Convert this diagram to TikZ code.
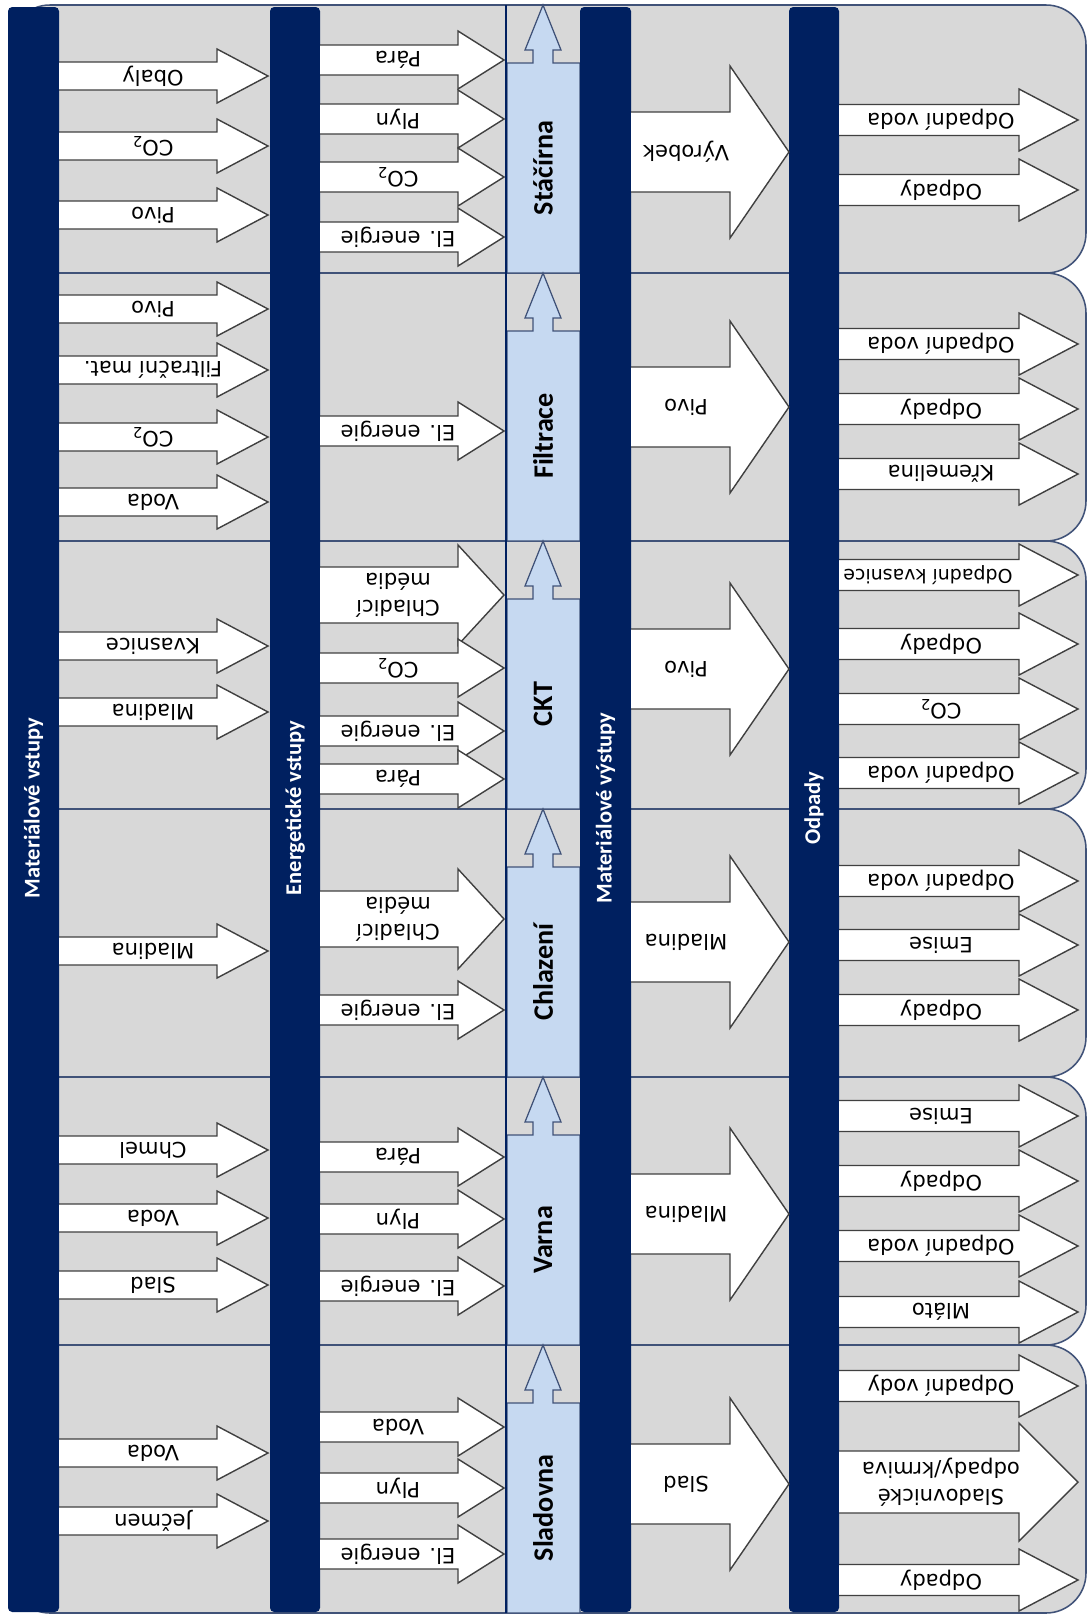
\documentclass[tikz,border=0pt]{standalone}
\usepackage{fontspec}
\setmainfont{DejaVu Sans}
\newfontfamily\calfont{Carlito}
\usepackage{tikz}
\usetikzlibrary{calc}

\definecolor{navybar}{RGB}{0,32,96}
\definecolor{panelgray}{RGB}{216,216,216}
\definecolor{panelline}{RGB}{64,82,120}
\definecolor{procblue}{RGB}{198,217,241}
\definecolor{arrowgray}{RGB}{64,64,64}

\tikzset{
  panel/.style={fill=panelgray, draw=panelline, line width=1.1pt, rounded corners=1cm},
  bar/.style={fill=navybar, rounded corners=3pt},
  barlabel/.style={text=white, font=\calfont\bfseries\fontsize{16}{19}\selectfont, rotate=90, inner sep=0pt},
  proc/.style={fill=procblue, draw=panelline, line width=0.9pt},
  proclabel/.style={font=\calfont\bfseries\fontsize{20}{23}\selectfont, rotate=90, inner sep=0pt},
  arrowbody/.style={fill=white, draw=arrowgray, line width=1pt},
  arrowlabel/.style={font=\fontsize{15}{19}\selectfont, rotate=180, inner sep=0pt, align=center}
}

% name, x start, x head base, x tip, y, half shaft, half head, x text, text
\newcommand{\flow}[9]{%
  \draw[arrowbody] (#2,#5-#6) -- (#3,#5-#6) -- (#3,#5-#7) -- (#4,#5) -- (#3,#5+#7) -- (#3,#5+#6) -- (#2,#5+#6);
  \node[arrowlabel] (#1) at (#8,#5) {#9};
}
\newcommand{\matin}[3]{\flow{#1}{59}{217}{268}{#2}{14}{27}{153}{#3}}
\newcommand{\enin}[3]{\flow{#1}{320}{458}{504}{#2}{15}{29}{398}{#3}}
\newcommand{\enbig}[3]{\flow{#1}{320}{458}{504}{#2}{28}{50}{398}{#3}}
\newcommand{\matout}[3]{\flow{#1}{631}{730}{789}{#2}{40}{86}{686}{#3}}
\newcommand{\waste}[3]{\flow{#1}{839}{1019}{1078}{#2}{15.5}{31}{941}{#3}}
\newcommand{\wastebig}[3]{\flow{#1}{839}{1019}{1078}{#2}{31}{59}{941}{#3}}

\begin{document}
\begin{tikzpicture}[x=.025cm, y=-.025cm]
\fill[white] (0,0) rectangle (1089,1614);
\useasboundingbox (0,0) rectangle (1089,1614);
\foreach \i [evaluate=\i as \rtop using 5+268*\i, evaluate=\i as \rbot using 5+268*(\i+1)] in {0,1,...,5} {
  \draw[panel] (10,\rtop) -- (1086,\rtop) -- (1086,\rbot) -- (10,\rbot) -- cycle;
}
\foreach \i/\proc [evaluate=\i as \rtop using 5+268*\i, evaluate=\i as \rbot using 5+268*(\i+1)] in {0/Stáčírna,1/Filtrace,2/CKT,3/Chlazení,4/Varna,5/Sladovna} {
  \draw[proc] (507,\rtop+58) -- (533,\rtop+58) -- (533,\rtop+45) -- (525,\rtop+45) -- (543,\rtop) -- (561,\rtop+45) -- (553,\rtop+45) -- (553,\rtop+58) -- (580,\rtop+58) -- (580,\rbot) -- (507,\rbot) -- cycle;
  \node[proclabel] (p\i) at (543,\rtop+163) {\proc};
}
\draw[navybar, line width=1.2pt] (506,5) -- (506,1613);
\foreach \xa/\xb in {8/59, 270/320, 580/631, 789/839} {
  \fill[bar] (\xa,7) rectangle (\xb,1612);
}
\node[barlabel] (matinbar) at (33.5,808) {Materiálové vstupy};
\node[barlabel] (eninbar) at (295,808) {Energetické vstupy};
\node[barlabel] (matoutbar) at (605.5,808) {Materiálové výstupy};
\node[barlabel] (wastebar) at (814,808) {Odpady};

\matin{mi-a1}{76}{Obaly}
\matin{mi-a2}{146}{CO\textsubscript{2}}
\matin{mi-a3}{215}{Pivo}
\enin{ei-a1}{60}{Pára}
\enin{ei-a2}{119}{Plyn}
\enin{ei-a3}{177}{CO\textsubscript{2}}
\enin{ei-a4}{237}{El. energie}
\matout{mo-a}{152}{Výrobek}
\waste{wa-a1}{120}{Odpadní voda}
\waste{wa-a2}{190}{Odpady}

\matin{mi-b1}{309}{Pivo}
\matin{mi-b2}{370}{Filtrační mat.}
\matin{mi-b3}{437}{CO\textsubscript{2}}
\matin{mi-b4}{502}{Voda}
\enin{ei-b1}{431}{El. energie}
\matout{mo-b}{407}{Pivo}
\waste{wa-b1}{344}{Odpadní voda}
\waste{wa-b2}{409}{Odpady}
\waste{wa-b3}{474}{Křemelina}

\matin{mi-c1}{646}{Kvasnice}
\matin{mi-c2}{712}{Mladina}
\enbig{ei-c1}{595}{Chladicí\\média}
\enin{ei-c2}{668}{CO\textsubscript{2}}
\enin{ei-c3}{731}{El. energie}
\enin{ei-c4}{779}{Pára}
\matout{mo-c}{669}{Pivo}
\flow{wa-c1}{839}{1019}{1078}{575}{15.5}{31}{928}{\fontsize{13.5}{16}\selectfont Odpadní kvasnice}
\waste{wa-c2}{644}{Odpady}
\waste{wa-c3}{709}{CO\textsubscript{2}}
\waste{wa-c4}{773}{Odpadní voda}

\matin{mi-d1}{951}{Mladina}
\enbig{ei-d1}{919}{Chladicí\\média}
\enin{ei-d2}{1010}{El. energie}
\matout{mo-d}{942}{Mladina}
\waste{wa-d1}{881}{Odpadní voda}
\waste{wa-d2}{945}{Emise}
\waste{wa-d3}{1010}{Odpady}

\matin{mi-e1}{1150}{Chmel}
\matin{mi-e2}{1218}{Voda}
\matin{mi-e3}{1285}{Slad}
\enin{ei-e1}{1157}{Pára}
\enin{ei-e2}{1219}{Plyn}
\enin{ei-e3}{1286}{El. energie}
\matout{mo-e}{1214}{Mladina}
\waste{wa-e1}{1116}{Emise}
\waste{wa-e2}{1181}{Odpady}
\waste{wa-e3}{1246}{Odpadní voda}
\waste{wa-e4}{1312}{Mláto}

\matin{mi-f1}{1453}{Voda}
\matin{mi-f2}{1521}{Ječmen}
\enin{ei-f1}{1427}{Voda}
\enin{ei-f2}{1488}{Plyn}
\enin{ei-f3}{1554}{El. energie}
\matout{mo-f}{1484}{Slad}
\waste{wa-f1}{1386}{Odpadní vody}
\wastebig{wa-f2}{1482}{Sladovnické\\odpady/krmiva}
\waste{wa-f3}{1580}{Odpady}
\end{tikzpicture}
\end{document}
